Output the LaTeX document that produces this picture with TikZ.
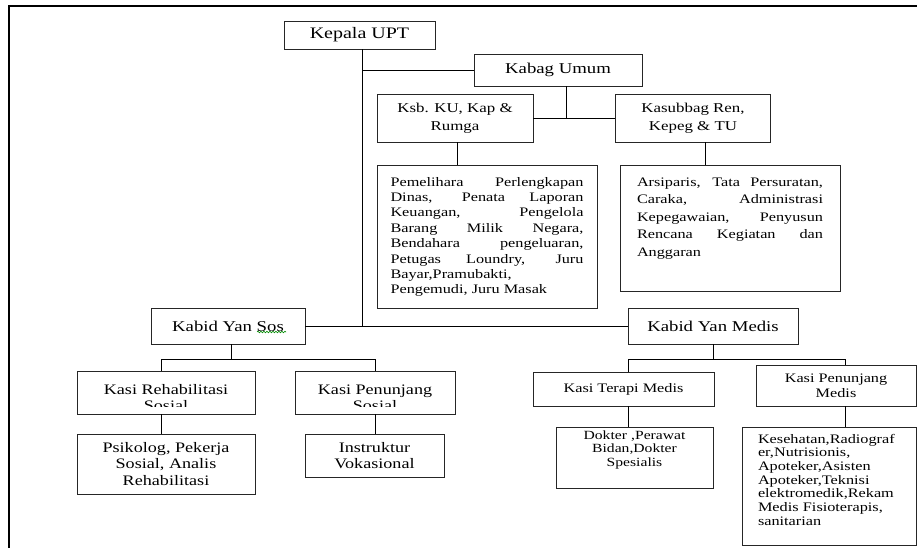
\documentclass[tikz,border=0pt]{standalone}
\usepackage{fontspec}
\setmainfont[FakeStretch=1.25]{Liberation Serif}
\usetikzlibrary{decorations.pathmorphing}
\newcommand{\ukuran}[2]{\fontsize{#1}{#2}\selectfont}
\hyphenpenalty=10000
\exhyphenpenalty=10000
\tikzset{
    %Define standard line width
    line width=1.2pt,
    kotak/.style={
      rectangle,
      draw=black!85,
      inner sep=0pt,
      align=center},
    uraian/.style={
      rectangle,
      draw=black!85,
      inner xsep=0pt,
      inner ysep=0pt,
      align=justify},
    potong/.style={
      path picture={
        \clip ([yshift=8pt]path picture bounding box.south west)
              rectangle (path picture bounding box.north east);
        \node [anchor=north, align=center, inner sep=0pt,
               font=\ukuran{14.5}{16}]
              at ([yshift=-5pt]path picture bounding box.north) {#1};}},
}

\begin{document}
\begin{tikzpicture}[x=1pt, y=-1pt]
    \useasboundingbox (0,0) rectangle (917,548);
    % frame
    \draw [line width=2.2pt] (9,548) -- (9,6) -- (917,6);

    \node (kepala) [kotak, minimum width=151, minimum height=28,
          font=\ukuran{16}{19}] at (359.5,35)
          {Kepala UPT};
    \node (umum) [kotak, minimum width=168, minimum height=32,
          font=\ukuran{15}{18}] at (558,70)
          {Kabag Umum};
    \node (ksb) [kotak, minimum width=156, minimum height=48,
          font=\ukuran{13.5}{18}] at (455,118)
          {Ksb. KU, Kap \&\\Rumga};
    \node (ren) [kotak, minimum width=155, minimum height=48,
          font=\ukuran{13.5}{18}] at (693,118)
          {Kasubbag Ren,\\Kepeg \& TU};
    \node (pem) [uraian, minimum width=220, text width=193,
          text height=21, text depth=122,
          font=\ukuran{13}{15.4}] at (487,236.5)
          {Pemelihara Perlengkapan\linebreak Dinas, Penata Laporan\linebreak
           Keuangan, Pengelola\linebreak Barang Milik Negara,\linebreak
           Bendahara pengeluaran,\linebreak Petugas Loundry, Juru\linebreak
           Bayar,Pramubakti,\newline Pengemudi, Juru Masak};
    \node (ars) [uraian, minimum width=220, text width=186,
          text height=21, text depth=105,
          font=\ukuran{13}{17.5}] at (730,228)
          {Arsiparis, Tata Persuratan,\linebreak Caraka, Administrasi\linebreak
           Kepegawaian, Penyusun\linebreak Rencana Kegiatan dan\linebreak
           Anggaran};

    \node (sos) [kotak, minimum width=154, minimum height=36,
          font=\ukuran{15}{18}] at (228,326)
          {Kabid Yan Sos};
    \node (medis) [kotak, minimum width=170, minimum height=36,
          font=\ukuran{15}{18}] at (713,326)
          {Kabid Yan Medis};

    \node (rehab) [kotak, minimum width=178, minimum height=43,
          potong={Kasi Rehabilitasi\\Sosial}] at (166,392.5)
          {};
    \node (pensos) [kotak, minimum width=160, minimum height=43,
          potong={Kasi Penunjang\\Sosial}] at (375,392.5)
          {};
    \node (psi) [kotak, minimum width=178, minimum height=60,
          font=\ukuran{14.5}{16.3}] at (166,464)
          {Psikolog, Pekerja\\Sosial, Analis\\Rehabilitasi};
    \node (ins) [kotak, minimum width=139, minimum height=43,
          font=\ukuran{14.5}{16.3}] at (374.5,455.5)
          {Instruktur\\Vokasional};

    \node (terapi) [kotak, minimum width=181, minimum height=34,
          font=\ukuran{13}{15}] at (623.5,389)
          {Kasi Terapi Medis};
    \node (penmed) [kotak, minimum width=160, minimum height=41,
          font=\ukuran{13}{15}] at (836,385.5)
          {Kasi Penunjang\\Medis};
    \node (dok) [kotak, minimum width=157, text width=140,
          text height=12, text depth=49,
          font=\ukuran{12.5}{13.5}] at (634.5,457.5)
          {Dokter ,Perawat\\Bidan,Dokter\\Spesialis};
    \node (kes) [kotak, align=left, minimum width=174, text width=142,
          text height=16, text depth=102,
          font=\ukuran{13}{13.7}] at (829,486)
          {Kesehatan,Radiograf\\er,Nutrisionis,\\Apoteker,Asisten\\
           Apoteker,Teknisi\\elektromedik,Rekam\\Medis Fisioterapis,\\
           sanitarian};

    % spelling mark
    \draw [green!55!black, line width=0.6pt, decorate,
           decoration={snake, amplitude=0.8pt, segment length=3pt}]
          ([xshift=29pt,yshift=-6pt]sos.center) -- ([xshift=58pt,yshift=-6pt]sos.center);

    % lines
    \draw ([xshift=3pt]kepala.south) -- ([xshift=3pt]kepala.south |- sos.east);
    \draw (umum.west) -- ([xshift=3pt]kepala.south |- umum.west);
    \draw (sos.east) -- (medis.west);
    \draw ([xshift=8pt]umum.south) |- (ksb.east);
    \draw ([xshift=8pt]umum.south) |- (ren.west);
    \draw ([xshift=2pt]ksb.south) -- ([xshift=2pt]ksb.south |- pem.north);
    \draw ([xshift=12pt]ren.south) -- ([xshift=12pt]ren.south |- ars.north);
    \draw ([xshift=3pt]sos.south) -- ++(0,15) -| ([xshift=-5pt]rehab.north);
    \draw ([xshift=3pt]sos.south) -- ++(0,15) -| (pensos.north);
    \draw ([xshift=-5pt]rehab.south) -- ([xshift=-5pt]rehab.south |- psi.north);
    \draw (pensos.south) -- (pensos.south |- ins.north);
    \draw (medis.south) -- ++(0,15) -| ([xshift=4.5pt]terapi.north);
    \draw (medis.south) -- ++(0,15) -| ([xshift=9pt]penmed.north);
    \draw ([xshift=4.5pt]terapi.south) -- ([xshift=4.5pt]terapi.south |- dok.north);
    \draw ([xshift=9pt]penmed.south) -- ([xshift=9pt]penmed.south |- kes.north);
\end{tikzpicture}
\end{document}
